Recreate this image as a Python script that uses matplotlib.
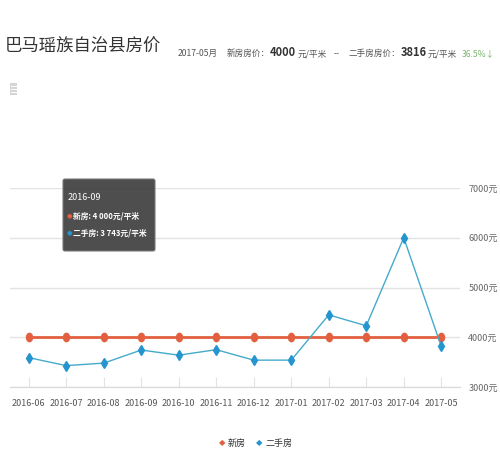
import matplotlib
matplotlib.use("Agg")
import matplotlib.pyplot as plt
from matplotlib.markers import MarkerStyle
from matplotlib.transforms import Affine2D
from matplotlib import patches

plt.rcParams['font.family'] = ['Noto Sans CJK SC', 'DejaVu Sans']

# data
months = ['2016-06', '2016-07', '2016-08', '2016-09', '2016-10', '2016-11',
          '2016-12', '2017-01', '2017-02', '2017-03', '2017-04', '2017-05']
new_price = [4000, 4000, 4000, 4000, 4000, 4000, 4000, 4000, 4000, 4000, 4000, 4000]
second_price = [3590, 3430, 3480, 3743, 3640, 3750, 3540, 3540, 4450, 4230, 6000, 3816]
y_ticks = [3000, 4000, 5000, 6000, 7000]

RED = '#e2603f'
BLUE_M = '#2595cf'
BLUE_L = '#45aacb'
W, H = 500, 470

fig = plt.figure(figsize=(W / 100, H / 100), dpi=100)
fig.patch.set_facecolor('white')

# axes placed in pixel terms of the reference
left, right, bottom, top = 10, 460, 387, 188
ax = fig.add_axes([left / W, 1 - bottom / H, (right - left) / W, (bottom - top) / H])

x = list(range(len(months)))
red_marker = MarkerStyle('o', transform=Affine2D().scale(0.72, 1.0))
blue_marker = MarkerStyle('D', transform=Affine2D().scale(0.6, 1.0))

ax.plot(x, new_price, color=RED, lw=2.0, marker=red_marker, ms=6,
        mec=RED, mfc=RED, zorder=3, clip_on=False)
ax.plot(x, second_price, color=BLUE_L, lw=1.0, marker=blue_marker, ms=5.2,
        mec=BLUE_M, mfc=BLUE_M, zorder=4, clip_on=False)

ax.set_xlim(-0.5, len(months) - 0.5)
ax.set_ylim(3000, 7000)
ax.set_yticks(y_ticks)
ax.set_yticklabels([f'{v}元' for v in y_ticks])
ax.yaxis.tick_right()
ax.set_xticks(x)
ax.set_xticklabels(months)
ax.grid(axis='y', color='#e3e3e3', lw=1.0)
ax.set_axisbelow(True)
for s in ['top', 'left', 'right']:
    ax.spines[s].set_visible(False)
ax.spines['bottom'].set_color('#d8d8d8')
ax.tick_params(axis='y', length=0, pad=6, labelsize=6.5, labelcolor='#666666')
ax.tick_params(axis='x', direction='in', length=7, width=0.8, color='#e3e3e3',
               pad=9, labelsize=6.5, labelcolor='#555555')

# tooltip
tip = patches.FancyBboxPatch((63 / W, 1 - 251 / H), 92 / W, 72 / H,
                             boxstyle='round,pad=0,rounding_size=0.004',
                             transform=fig.transFigure, facecolor='#444444',
                             edgecolor='#777777', lw=0.8, alpha=0.95, zorder=10)
fig.patches.append(tip)
fig.text(68 / W, 1 - 198 / H, '2016-09', color='white', fontsize=6.5,
         va='center', zorder=11)
fig.text(69 / W, 1 - 216 / H, '●', color=RED, fontsize=4.5, ha='center',
         va='center', family=['DejaVu Sans'], zorder=11)
fig.text(73 / W, 1 - 216 / H, '新房: 4 000元/平米', color='white', fontsize=5.6,
         fontweight='bold', va='center', zorder=11)
fig.text(69 / W, 1 - 233 / H, '●', color=BLUE_M, fontsize=4.5, ha='center',
         va='center', family=['DejaVu Sans'], zorder=11)
fig.text(73 / W, 1 - 233 / H, '二手房: 3 743元/平米', color='white', fontsize=5.6,
         fontweight='bold', va='center', zorder=11)

# title and header
fig.text(5 / W, 1 - 47 / H, '巴马瑶族自治县房价', fontsize=12.5, color='#333333',
         va='center')

fig.canvas.draw()
rend = fig.canvas.get_renderer()
pieces = [
    ('2017-05月', 6.2, 'normal', '#555555', 9),
    ('新房房价：', 6.2, 'normal', '#555555', 0),
    ('4000', 8, 'bold', '#333333', 1),
    ('元/平米', 6.2, 'normal', '#555555', 7),
    ('--', 6.2, 'normal', '#555555', 9),
    ('二手房房价：', 6.2, 'normal', '#555555', 0),
    ('3816', 8, 'bold', '#333333', 1),
    ('元/平米', 6.2, 'normal', '#555555', 5),
    ('36.5%↓', 6.2, 'normal', '#7ab56f', 0),
]
xpos = 178
for s, size, weight, color, gap in pieces:
    t = fig.text(xpos / W, 1 - 56 / H, s, fontsize=size, fontweight=weight,
                 color=color, va='baseline')
    bb = t.get_window_extent(rend)
    xpos = bb.x1 + gap

# small list icon
fig.patches.append(patches.Rectangle((10 / W, 1 - 95 / H), 7 / W, 12 / H,
                                     transform=fig.transFigure,
                                     facecolor='#d5d5d5', edgecolor='none'))
for yy in [86, 89, 92]:
    fig.lines.append(plt.Line2D([11 / W, 16 / W], [1 - yy / H, 1 - yy / H],
                                transform=fig.transFigure, color='white', lw=0.7))

# legend
fig.text(222 / W, 1 - 443 / H, '◆', color=RED, fontsize=6, ha='center', va='center',
         family=['DejaVu Sans'])
fig.text(228 / W, 1 - 443 / H, '新房', color='#333333', fontsize=6.5, va='center')
fig.text(259 / W, 1 - 443 / H, '◆', color=BLUE_M, fontsize=6, ha='center', va='center',
         family=['DejaVu Sans'])
fig.text(265 / W, 1 - 443 / H, '二手房', color='#333333', fontsize=6.5, va='center')

fig.savefig('out.png', dpi=100)
